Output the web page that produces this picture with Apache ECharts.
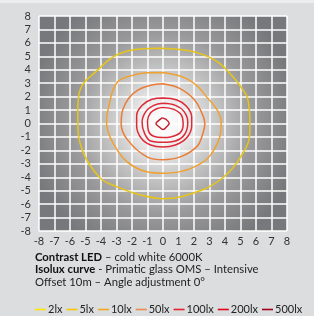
<!DOCTYPE html>
<html>
<head>
<meta charset="utf-8">
<script src="https://cdn.jsdelivr.net/npm/echarts@6/dist/echarts.min.js"></script>
<style>
  html, body { margin: 0; padding: 0; background: #dcdddf; }
  #chart { width: 314px; height: 316px; }
</style>
</head>
<body>
<div id="chart"></div>
<script>
// axis range (metres)
const axisMin = -8;
const axisMax = 8;

// legend entries and their colours
const legendNames = ['2lx', '5lx', '10lx', '50lx', '100lx', '200lx', '500lx'];
const legendColors = ['#ffe500', '#f7c600', '#f7a51e', '#ec8a4c', '#e8202c', '#e2001a', '#a3001c'];

// isolux curves, [x, y] in metres
const curve5 = [
  [0, 5.6], [1.5, 5.45], [2.4, 5.2], [3.5, 4.6], [4.5, 3.5], [5.1, 2.6], [5.45, 1.9],
  [5.6, 0.3], [5.6, -0.7], [5.0, -2.5], [3.9, -4.0], [2.4, -5.0], [0, -5.6],
  [-1.5, -5.3], [-3.0, -4.7], [-4.1, -4.0], [-5.2, -2.0], [-5.5, 0.3], [-5.5, 1.0],
  [-5.35, 2.5], [-4.1, 4.1], [-3.0, 5.1], [-1.5, 5.55], [0, 5.6]
];
const curve10 = [
  [0, 3.8], [1.3, 3.45], [2.2, 2.8], [2.8, 2.0], [3.5, 1.0], [3.75, 0.1], [3.5, -1.5],
  [2.4, -3.0], [0, -3.7], [-1.9, -3.2], [-3.2, -1.5], [-3.65, 0.2], [-3.55, 1.0],
  [-3.0, 3.0], [-1.9, 3.6], [-0.8, 3.78], [0, 3.8]
];
const curve50 = [
  [0, 2.95], [1.1, 2.6], [2.0, 1.8], [2.5, 0.8], [2.7, 0], [2.5, -1.0], [2.2, -1.7],
  [1.2, -2.45], [0, -2.7], [-1.0, -2.5], [-2.3, -1.2], [-2.7, 0], [-2.6, 1.0],
  [-2.2, 1.9], [-1.6, 2.5], [-0.8, 2.85], [0, 2.95]
];
const curve100 = [
  [0, 1.9], [0.9, 1.75], [1.5, 1.3], [1.85, 0.5], [1.85, -0.2], [1.5, -1.1], [0.8, -1.6],
  [0, -1.75], [-0.8, -1.6], [-1.4, -1.1], [-1.7, -0.2], [-1.7, 0.6], [-1.3, 1.4],
  [-0.7, 1.8], [0, 1.9]
];
const curve200a = [
  [0, 1.5], [0.8, 1.35], [1.35, 0.9], [1.6, 0.1], [1.4, -0.8], [0.8, -1.3], [0, -1.4],
  [-0.8, -1.3], [-1.2, -0.7], [-1.35, 0.1], [-1.1, 0.9], [-0.6, 1.35], [0, 1.5]
];
const curve200b = [
  [0, 1.2], [0.7, 1.05], [1.2, 0.6], [1.3, -0.1], [1.1, -0.7], [0.5, -1.0], [0, -1.05],
  [-0.6, -0.95], [-0.95, -0.5], [-1.0, 0.2], [-0.8, 0.8], [-0.4, 1.1], [0, 1.2]
];
const curve500 = [
  [-0.05, 0.42], [0.2, 0.3], [0.4, 0.02], [0.2, -0.28], [0, -0.45], [-0.22, -0.28],
  [-0.45, 0], [-0.25, 0.25], [-0.05, 0.42]
];

const chart = echarts.init(document.getElementById('chart'), null, { renderer: 'canvas' });

function curve(name, data, color, width) {
  return {
    name: name,
    type: 'line',
    data: data,
    smooth: 0.4,
    showSymbol: false,
    symbol: 'none',
    silent: true,
    lineStyle: { color: color, width: width },
    itemStyle: { color: color }
  };
}

const labelFont = { fontFamily: 'Lato', fontSize: 11, color: '#333' };

const option = {
  backgroundColor: '#dcdddf',
  animation: false,
  graphic: [{
    type: 'rect',
    shape: { x: 0, y: 0, width: 314, height: 3 },
    style: { fill: '#ededed' },
    silent: true
  }],
  title: {
    left: 35,
    top: 251,
    padding: 0,
    text: '{b|Contrast LED} – cold white 6000K\n{b|Isolux curve} - Primatic glass OMS – Intensive\nOffset 10m – Angle adjustment 0°',
    textStyle: {
      fontFamily: 'Lato',
      fontSize: 11.3,
      fontWeight: 'normal',
      color: '#1e1e1e',
      lineHeight: 12.5,
      rich: {
        b: { fontFamily: 'Lato', fontSize: 11.3, fontWeight: 'bold', color: '#111', lineHeight: 12.5 }
      }
    }
  },
  legend: {
    left: 35,
    top: 304,
    padding: 0,
    icon: 'rect',
    itemWidth: 11,
    itemHeight: 1.6,
    itemGap: 4,
    textStyle: { fontFamily: 'Lato', fontSize: 11, color: '#222', padding: [0, 0, 0, -3] },
    data: legendNames.map((n, i) => ({ name: n, itemStyle: { color: legendColors[i] } }))
  },
  grid: {
    left: 39,
    top: 16,
    width: 248,
    height: 215,
    show: true,
    borderWidth: 0,
    backgroundColor: new echarts.graphic.RadialGradient(0.5, 0.5, 0.64, [
      { offset: 0, color: '#ffffff' },
      { offset: 0.13, color: '#f4f4f4' },
      { offset: 0.36, color: '#cbcbcc' },
      { offset: 0.66, color: '#99999b' },
      { offset: 1, color: '#77787b' }
    ])
  },
  xAxis: {
    type: 'value',
    min: axisMin,
    max: axisMax,
    interval: 1,
    axisLine: { show: false },
    axisTick: { show: false },
    axisLabel: Object.assign({ margin: 5 }, labelFont),
    splitLine: { show: true, lineStyle: { color: '#ffffff', width: 1.5 } }
  },
  yAxis: {
    type: 'value',
    min: axisMin,
    max: axisMax,
    interval: 1,
    axisLine: { show: false },
    axisTick: { show: false },
    axisLabel: Object.assign({ margin: 8 }, labelFont),
    splitLine: { show: true, lineStyle: { color: '#ffffff', width: 1.5 } }
  },
  series: [
    curve('2lx', [], legendColors[0], 1.5),
    curve('5lx', curve5, '#e6c516', 1.5),
    curve('10lx', curve10, '#f0a130', 1.5),
    curve('50lx', curve50, '#ea7c36', 1.5),
    curve('100lx', curve100, '#dc2a38', 1.5),
    curve('200lx', curve200a, '#dc2a38', 1.5),
    curve('200lx', curve200b, '#dc2a38', 1.5),
    curve('500lx', curve500, '#c8202e', 1.5)
  ]
};

chart.setOption(option);
</script>
</body>
</html>
